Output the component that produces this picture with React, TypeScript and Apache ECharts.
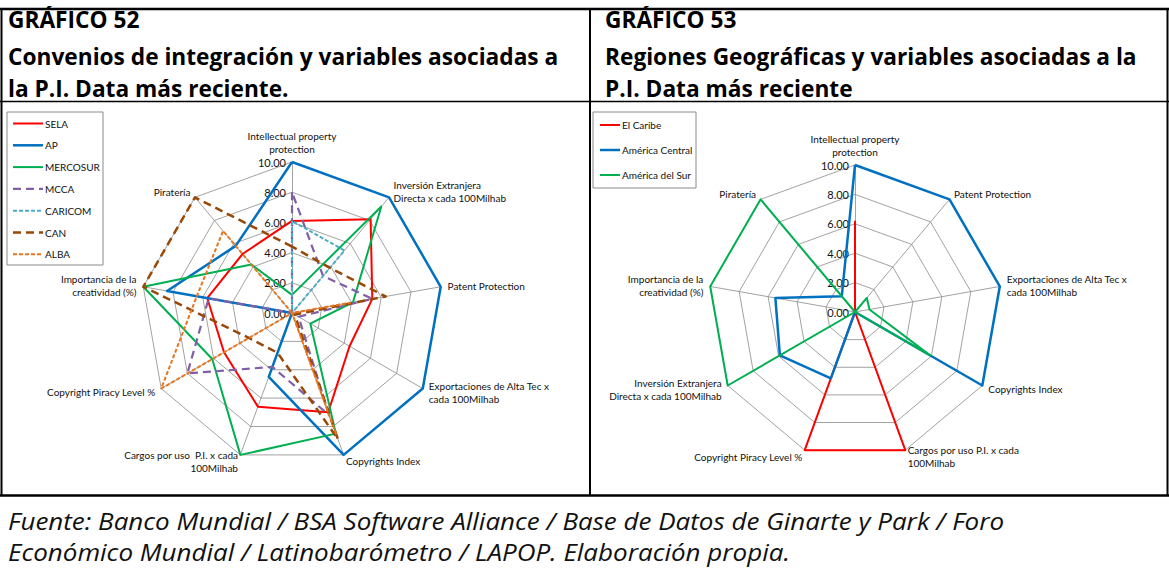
import React, { useEffect, useRef } from "react";
import * as echarts from "echarts";

// ---------- DATA (clockwise order, starting at the top axis) ----------
const leftAxes = [
  "Intellectual property\nprotection",
  "Inversión Extranjera\nDirecta x cada 100Milhab",
  "Patent Protection",
  "Exportaciones de Alta Tec x\ncada 100Milhab",
  "Copyrights Index",
  "Cargos por uso  P.I. x cada\n100Milhab",
  "Copyright Piracy Level %",
  "Importancia de la\ncreatividad (%)",
  "Piratería",
];
const leftNames = ["SELA", "AP", "MERCOSUR", "MCCA", "CARICOM", "CAN", "ALBA"];
const sela = [6.1, 8.1, 5.4, 4.4, 7.0, 6.6, 5.2, 5.7, 5.1];
const ap = [10, 10, 10, 10, 10, 4.5, 0, 8.4, 5.8];
const mercosur = [1.2, 9.2, 4.1, 1.4, 8.5, 10, 6.1, 10, 4.2];
const mcca = [8.0, 3.2, 5.4, 0.5, 7.2, 3.8, 8.0, 5.6, 0];
const caricom = [6.1, 5.4, 0, 0, 0, 0, 0, 0, 0];
const can = [4.4, 3.9, 6.3, 0.2, 8.9, 2.8, 3.3, 10, 10];
const alba = [0, 0, 3.9, 0, 8.6, 0, 10, 6.4, 7.1];
const leftValues = [sela, ap, mercosur, mcca, caricom, can, alba];

const rightAxes = [
  "Intellectual property\nprotection",
  "Patent Protection",
  "Exportaciones de Alta Tec x\ncada 100Milhab",
  "Copyrights Index",
  "Cargos por uso P.I. x cada\n100Milhab",
  "Copyright Piracy Level %",
  "Inversión Extranjera\nDirecta x cada 100Milhab",
  "Importancia de la\ncreatividad (%)",
  "Piratería",
];
const rightNames = ["El Caribe", "América Central", "América del Sur"];
const elCaribe = [6.2, 0, 0, 0, 10, 10, 0, 0, 0];
const americaCentral = [10, 10, 10, 10, 0, 4.8, 5.9, 5.5, 1.4];
const americaSur = [0, 1.25, 1.0, 5.9, 0, 0, 10, 10, 10];
const rightValues = [elCaribe, americaCentral, americaSur];

const axisMin = 0;
const axisMax = 10;
const tickCount = 5; // 0.00, 2.00, ... 10.00

const titleLeft = ["GRÁFICO 52", "Convenios de integración y variables asociadas a", "la P.I. Data más reciente."];
const titleRight = ["GRÁFICO 53", "Regiones Geográficas y variables asociadas a la", "P.I. Data más reciente"];
const footer = [
  "Fuente: Banco Mundial / BSA Software Alliance / Base de Datos de Ginarte y Park / Foro",
  "Económico Mundial / Latinobarómetro / LAPOP. Elaboración propia.",
];

// ---------- STYLES ----------
const leftStyles = [
  { color: "#FF0000", type: "solid", width: 2 },
  { color: "#0070C0", type: "solid", width: 2.5 },
  { color: "#00B050", type: "solid", width: 2 },
  { color: "#7F5FA6", type: [8, 5], width: 2.2 },
  { color: "#4BACC6", type: [4, 2], width: 2 },
  { color: "#984807", type: [8, 5], width: 2.5 },
  { color: "#E8761E", type: [4, 2], width: 2 },
];
const rightStyles = [
  { color: "#FF0000", type: "solid", width: 2 },
  { color: "#0070C0", type: "solid", width: 2.5 },
  { color: "#00B050", type: "solid", width: 2 },
];

const FONT = "Lato, 'Noto Sans', sans-serif";

// ECharts places radar indicators counter-clockwise; the picture goes clockwise.
const ccw = <T,>(arr: T[]): T[] => [arr[0], ...arr.slice(1).reverse()];

function makeRadar(center: [number, number], radius: number, axes: string[]) {
  return {
    center,
    radius,
    startAngle: 90,
    splitNumber: tickCount,
    shape: "polygon",
    axisNameGap: 7,
    indicator: ccw(axes).map((name, i) => ({
      name,
      min: axisMin,
      max: axisMax,
      axisLabel: { show: i === 0 },
    })),
    axisName: { color: "#111", fontSize: 10, fontFamily: FONT, lineHeight: 13 },
    axisLine: { lineStyle: { color: "#8a8a8a", width: 0.8 } },
    splitLine: { lineStyle: { color: "#8a8a8a", width: 0.8 } },
    splitArea: { show: false },
    axisTick: { show: false },
    axisLabel: {
      show: false,
      formatter: (v: number) => v.toFixed(2),
      fontSize: 11,
      color: "#111",
      fontFamily: FONT,
      margin: 6,
    },
  };
}

function legendGraphic(x: number, y: number, w: number, h: number, names: string[], styles: any[], firstY: number, step: number, lineX1: number, lineX2: number) {
  const els: any[] = [
    { type: "rect", shape: { x, y, width: w, height: h }, style: { fill: "#fff", stroke: "#8a8a8a", lineWidth: 1 }, z: 10 },
  ];
  names.forEach((n, i) => {
    const yy = firstY + i * step;
    const s = styles[i];
    els.push({
      type: "line",
      shape: { x1: lineX1, y1: yy, x2: lineX2, y2: yy },
      style: { stroke: s.color, lineWidth: s.width, lineDash: Array.isArray(s.type) ? s.type : null },
      z: 11,
    });
    els.push({
      type: "text",
      x: lineX2 + 2,
      y: yy,
      style: { text: n, fill: "#111", fontSize: 10, fontFamily: FONT, align: "left", verticalAlign: "middle" },
      z: 11,
    });
  });
  return els;
}

function border(x1: number, y1: number, x2: number, y2: number, w: number) {
  return { type: "line", shape: { x1, y1, x2, y2 }, style: { stroke: "#000", lineWidth: w }, z: 20 };
}

function titleText(x: number, y: number, text: string) {
  return {
    type: "text",
    x,
    y,
    style: { text, fill: "#000", fontSize: 22.7, fontWeight: "bold", fontFamily: "'Open Sans', sans-serif", align: "left", verticalAlign: "middle" },
    z: 20,
  };
}

export default function App() {
  const ref = useRef<HTMLDivElement>(null);
  useEffect(() => {
    if (!ref.current) return;
    const chart = echarts.init(ref.current, undefined, { renderer: "svg" });
    const titleYs = [19, 56, 88];
    const graphic: any[] = [
      border(0, 9, 1169, 9, 2.5),
      border(1.5, 9, 1.5, 496, 2),
      border(1167.5, 9, 1167.5, 496, 2),
      border(590, 9, 590, 496, 2),
      border(0, 101.5, 1169, 101.5, 1.5),
      border(0, 495.5, 1169, 495.5, 2.5),
      ...titleLeft.map((t, i) => titleText(8, titleYs[i], t)),
      ...titleRight.map((t, i) => titleText(605, titleYs[i], t)),
      ...footer.map((t, i) => ({
        type: "text",
        x: 8,
        y: 521 + i * 31,
        scaleX: 1.13,
        style: { text: t, fill: "#111", fontSize: 23, fontStyle: "italic", fontFamily: "'Open Sans', sans-serif", align: "left", verticalAlign: "middle" },
        z: 20,
      })),
      ...legendGraphic(7, 112, 96, 153, leftNames, leftStyles, 123.5, 21.8, 13, 43),
      ...legendGraphic(593, 112, 103, 76, rightNames, rightStyles, 125, 25, 600, 620),
    ];
    chart.setOption({
      animation: false,
      backgroundColor: "#fff",
      radar: [makeRadar([292, 313], 151, leftAxes), makeRadar([855, 312], 147, rightAxes)],
      series: [
        {
          type: "radar",
          radarIndex: 0,
          symbol: "none",
          silent: true,
          data: leftNames.map((name, i) => ({
            name,
            value: ccw(leftValues[i]),
            lineStyle: { ...leftStyles[i] },
            itemStyle: { color: leftStyles[i].color },
          })),
        },
        {
          type: "radar",
          radarIndex: 1,
          symbol: "none",
          silent: true,
          data: rightNames.map((name, i) => ({
            name,
            value: ccw(rightValues[i]),
            lineStyle: { ...rightStyles[i] },
            itemStyle: { color: rightStyles[i].color },
          })),
        },
      ],
      graphic,
    });
    return () => chart.dispose();
  }, []);
  return (
    <div
      ref={ref}
      style={{ position: "absolute", left: 0, top: 0, width: 1169, height: 570, background: "#fff" }}
    />
  );
}
